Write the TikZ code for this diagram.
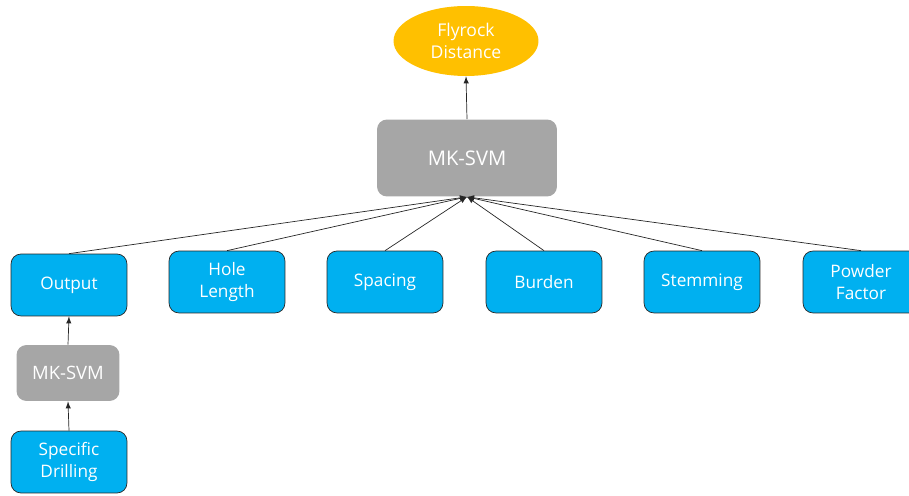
\documentclass[tikz,border=0pt]{standalone}
\usepackage{fontspec}
\setmainfont{Open Sans}
\usetikzlibrary{scopes,shapes.geometric}

\definecolor{inblue}{HTML}{00B0F0}
\definecolor{svmgray}{HTML}{A6A6A6}
\definecolor{flyorange}{HTML}{FFC000}

\begin{document}
\begin{tikzpicture}[
    x=0.02cm, y=-0.02cm,
    input/.style={rectangle,rounded corners=0.2cm,draw=black!85,fill=inblue,thin,
        minimum width=2.32cm,minimum height=1.24cm,text=white,align=center,
        font=\fontsize{9.8}{12.5}\selectfont},
    model/.style={rectangle,rounded corners=0.2cm,fill=svmgray,text=white,
        font=\fontsize{10.5}{12.5}\selectfont},
    target/.style={ellipse,fill=flyorange,text=white,align=center,
        minimum width=2.9cm,minimum height=1.4cm,inner sep=0pt,
        font=\fontsize{10}{12.5}\selectfont},
    link/.style={>=latex,draw=black!85,thin},
]
    \useasboundingbox (0,0) rectangle (909,496);

    %%%
    % target and main model
    \node[target] (fly) at (466,41) {Flyrock\\Distance};
    \node[model,minimum width=3.6cm,minimum height=1.54cm,
        font=\fontsize{11.5}{13}\selectfont] (svm) at (467,158) {MK-SVM};

    %%%
    % inputs
    \node[input] (out) at (69,285) {Output};
    \node[input] (hole) at (227,282) {Hole\\Length};
    \node[input] (spac) at (385,282) {Spacing};
    \node[input] (burd) at (544,282) {Burden};
    \node[input] (stem) at (702,282) {Stemming};
    \node[input] (powd) at (861,282) {Powder\\Factor};

    %%%
    % first stage
    \node[model,minimum width=2.06cm,minimum height=1.12cm] (svmA) at (68,373) {MK-SVM};
    \node[input] (drill) at (69,462) {Specific\\Drilling};

    {[link,->]
        \draw (svm.north) -- (fly.south);
        \draw (out.north) -- (svm.south);
        \draw (hole.north) -- (svm.south);
        \draw (spac.north) -- (svm.south);
        \draw (burd.north) -- (svm.south);
        \draw (stem.north) -- (svm.south);
        \draw (powd.north) -- (svm.south);
        \draw (svmA.north) -- (out.south);
        \draw (drill.north) -- (svmA.south);
    }

\end{tikzpicture}
\end{document}
